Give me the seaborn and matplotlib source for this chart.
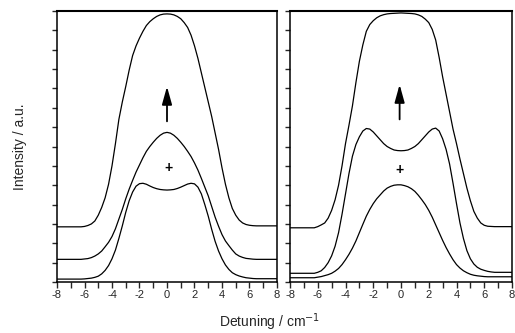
import numpy as np
import pandas as pd
import matplotlib
matplotlib.use("Agg")
import matplotlib.pyplot as plt
from matplotlib.ticker import MultipleLocator
import seaborn as sns

# Detuning grid (cm^-1)
detuning = np.arange(-8.0, 8.001, 0.25)

# Left panel: three spectra, bottom to top
left_low = [0.15] * 8 + [
    0.16, 0.18, 0.20, 0.24, 0.30, 0.42, 0.60, 0.85, 1.20, 1.65, 2.25, 2.90, 3.60,
    4.20, 4.65, 4.95, 5.08, 5.10, 5.05, 4.96, 4.88, 4.82, 4.78, 4.76, 4.75,
    4.76, 4.78, 4.83, 4.90, 4.98, 5.06, 5.10, 5.07, 4.90, 4.55, 4.00, 3.40,
    2.72, 2.10, 1.60, 1.20, 0.88, 0.65, 0.48, 0.38, 0.31, 0.26, 0.22, 0.20,
] + [0.18] + [0.17] * 7
left_mid = [1.17] * 8 + [
    1.19, 1.21, 1.26, 1.34, 1.45, 1.60, 1.82, 2.05, 2.35, 2.75, 3.25, 3.75, 4.30,
    4.80, 5.25, 5.68, 6.05, 6.42, 6.75, 7.00, 7.22, 7.42, 7.58, 7.69, 7.73,
    7.69, 7.58, 7.42, 7.22, 7.00, 6.75, 6.48, 6.15, 5.78, 5.35, 4.90, 4.45,
    3.90, 3.35, 2.88, 2.45, 2.12, 1.88, 1.65, 1.45, 1.34, 1.27, 1.22, 1.20,
] + [1.18] + [1.17] * 7
left_top = [2.85] * 8 + [
    2.87, 2.92, 3.00, 3.15, 3.45, 3.85, 4.35, 5.05, 6.00, 7.15, 8.40, 9.30, 10.10,
    10.95, 11.70, 12.20, 12.60, 12.95, 13.25, 13.45, 13.60, 13.72, 13.80, 13.84, 13.85,
    13.84, 13.80, 13.72, 13.60, 13.40, 13.15, 12.75, 12.20, 11.55, 10.80, 10.05, 9.30,
    8.55, 7.70, 6.85, 5.90, 5.05, 4.35, 3.80, 3.45, 3.20, 3.05, 2.97, 2.93,
] + [2.91] + [2.90] * 7

# Right panel: three spectra, bottom to top
right_low = [0.22] * 8 + [
    0.25, 0.28, 0.33, 0.38, 0.45, 0.56, 0.70, 0.90, 1.15, 1.43, 1.75, 2.12, 2.55,
    2.98, 3.40, 3.75, 4.05, 4.30, 4.50, 4.70, 4.85, 4.94, 5.00, 5.02, 5.02,
    4.98, 4.92, 4.82, 4.68, 4.48, 4.25, 4.00, 3.70, 3.35, 2.95, 2.55, 2.15,
    1.78, 1.45, 1.15, 0.90, 0.72, 0.58, 0.48, 0.40, 0.35, 0.32, 0.30, 0.28,
] + [0.27] * 8
right_mid = [0.45] * 8 + [
    0.50, 0.58, 0.75, 1.00, 1.35, 1.85, 2.55, 3.50, 4.55, 5.60, 6.50, 7.10, 7.50,
    7.80, 7.93, 7.90, 7.75, 7.55, 7.35, 7.15, 7.00, 6.90, 6.82, 6.79, 6.78,
    6.79, 6.82, 6.90, 7.00, 7.15, 7.35, 7.55, 7.75, 7.90, 7.95, 7.80, 7.40,
    6.85, 6.10, 5.10, 4.05, 3.05, 2.25, 1.62, 1.20, 0.93, 0.76, 0.66, 0.60,
] + [0.55, 0.52] + [0.50] * 6
right_top = [2.80] * 8 + [
    2.86, 2.95, 3.05, 3.30, 3.70, 4.25, 5.00, 6.00, 7.15, 8.10, 9.10, 10.30, 11.40,
    12.25, 12.95, 13.30, 13.50, 13.65, 13.75, 13.81, 13.85, 13.87, 13.88, 13.89, 13.90,
    13.89, 13.88, 13.87, 13.85, 13.80, 13.72, 13.58, 13.40, 13.05, 12.50, 11.60, 10.60,
    9.70, 8.80, 7.90, 7.15, 6.35, 5.60, 4.85, 4.20, 3.65, 3.30, 3.05, 2.93,
] + [2.88, 2.87] + [2.86] * 6

xtick_values = [-8, -6, -4, -2, 0, 2, 4, 6, 8]
xlabel_text = "Detuning / cm$^{-1}$"
ylabel_text = "Intensity / a.u."

# Arrow (x, start, tip) and "+" marker positions in data units
left_arrow = (0.0, 8.3, 10.1)
right_arrow = (-0.1, 8.4, 10.2)
left_plus = (0.1, 5.87)
right_plus = (-0.1, 5.78)

sns.set_theme(style="ticks")
plt.rcParams["font.family"] = ["Liberation Sans", "DejaVu Sans"]


def long_frame(curves):
    parts = []
    for name, vals in curves.items():
        parts.append(pd.DataFrame({"detuning": detuning, "intensity": vals, "trace": name}))
    return pd.concat(parts, ignore_index=True)


left_df = long_frame({"a": left_low, "b": left_mid, "c": left_top})
right_df = long_frame({"a": right_low, "b": right_mid, "c": right_top})

fig = plt.figure(figsize=(5.15, 3.33), dpi=100)
W, H = 515.0, 333.0
ax_l = fig.add_axes([57 / W, (H - 282) / H, 220 / W, 271 / H])
ax_r = fig.add_axes([290 / W, (H - 282) / H, 222 / W, 271 / H])

for ax, df, arrow, plus in ((ax_l, left_df, left_arrow, left_plus),
                            (ax_r, right_df, right_arrow, right_plus)):
    sns.lineplot(data=df, x="detuning", y="intensity", units="trace", estimator=None,
                 color="black", linewidth=0.9, ax=ax, legend=False)
    ax.set_xlim(-8, 8)
    ax.set_ylim(0, 14)
    ax.xaxis.set_minor_locator(MultipleLocator(1))
    ax.yaxis.set_major_locator(MultipleLocator(1))
    ax.set_xticks(xtick_values)
    ax.set_xticklabels([str(v) for v in xtick_values])
    ax.set_yticklabels([])
    ax.tick_params(axis="x", which="both", direction="out", length=4, width=1.0,
                   labelsize=8, pad=2, top=False)
    ax.tick_params(axis="y", which="both", direction="out", length=3.5, width=1.0,
                   left=True, right=False)
    for side in ("left", "bottom", "right"):
        ax.spines[side].set_linewidth(1.1)
        ax.spines[side].set_color("black")
    ax.spines["top"].set_linewidth(1.5)
    ax.spines["top"].set_color("black")
    ax.set_xlabel("")
    ax.set_ylabel("")
    ax.annotate("", xy=(arrow[0], arrow[2]), xytext=(arrow[0], arrow[1]),
                arrowprops=dict(arrowstyle="-|>,head_length=0.9,head_width=0.25",
                                color="black", lw=1.3, shrinkA=0, shrinkB=0))
    ax.text(plus[0], plus[1], "+", ha="center", va="center", fontsize=10,
            fontweight="bold", color="black")

fig.text(270 / W, 1 - 322 / H, xlabel_text, ha="center", va="center", fontsize=10)
fig.text(20 / W, 1 - 147 / H, ylabel_text, ha="center", va="center", rotation=90, fontsize=10)

fig.savefig("out.png", dpi=100, facecolor="white")
